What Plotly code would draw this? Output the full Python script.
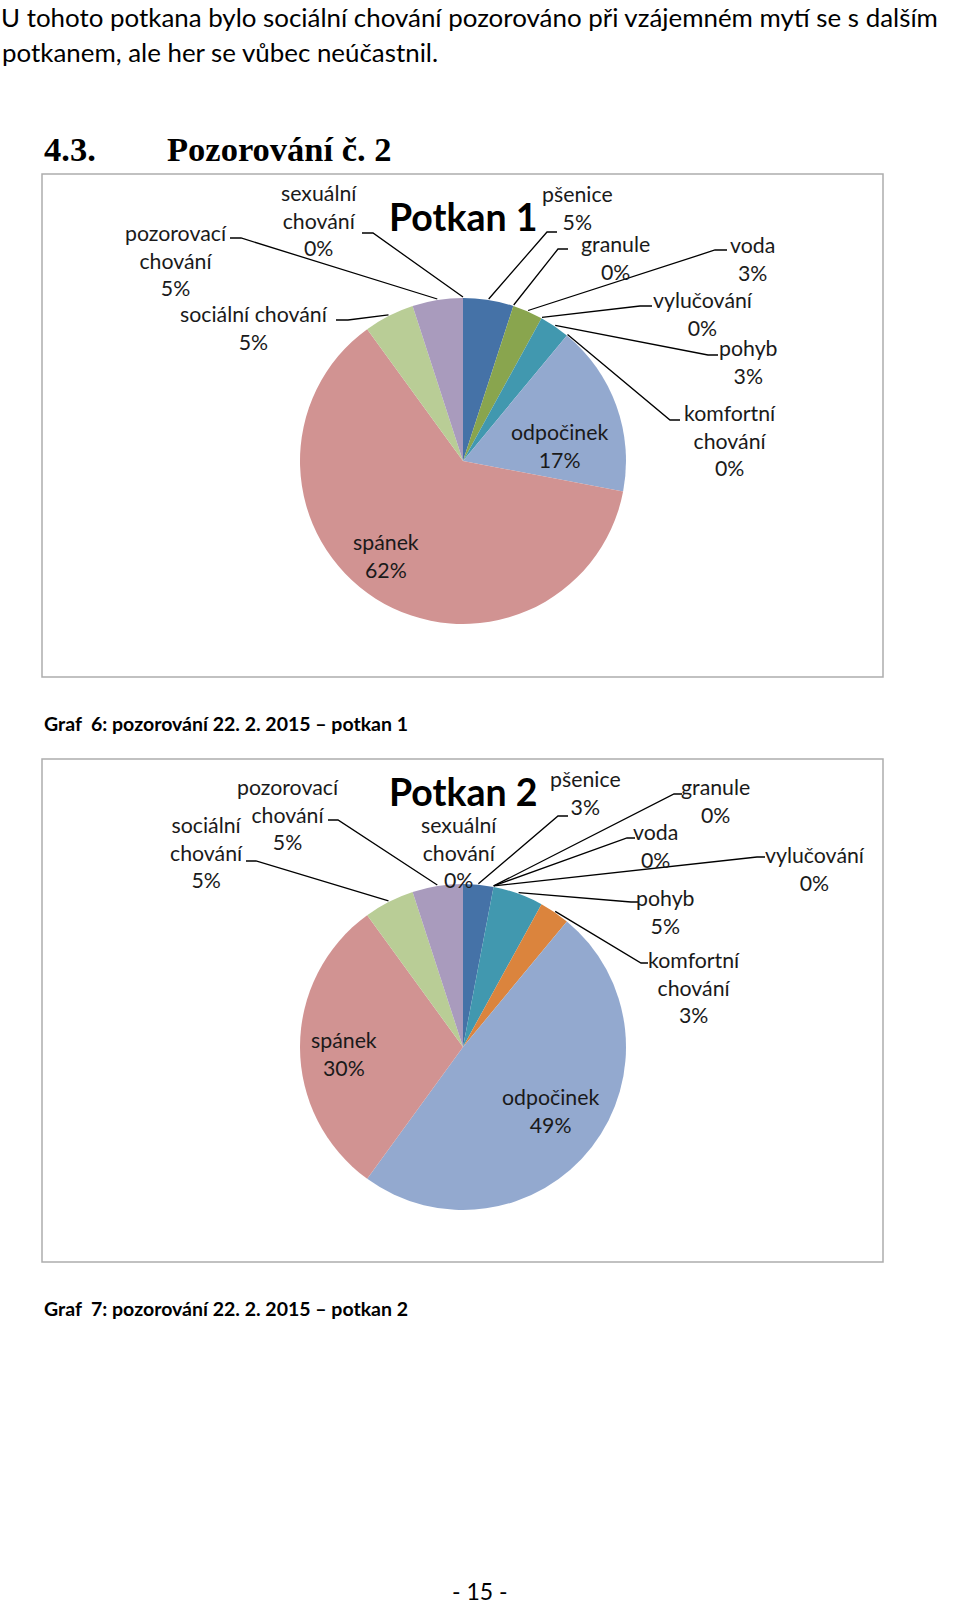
import math
import plotly.graph_objects as go

# ---------------- data ----------------
categories = ["pšenice", "granule", "voda", "vylučování", "pohyb", "komfortní chování",
              "odpočinek", "spánek", "sociální chování", "pozorovací chování", "sexuální chování"]
potkan1_pct = [5, 0, 3, 0, 3, 0, 17, 62, 5, 5, 0]
potkan2_pct = [3, 0, 0, 0, 5, 3, 49, 30, 5, 5, 0]
slice_colors = ["#4572A7", "#AA4643", "#89A54E", "#71588F", "#4198AF", "#DB843D",
                "#93A9CF", "#D19392", "#B9CD96", "#A99BBD", "#92C5D8"]

body_lines = ["U tohoto potkana bylo sociální chování pozorováno při vzájemném mytí se s dalším",
              "potkanem, ale her se vůbec neúčastnil."]
heading_num = "4.3."
heading_text = "Pozorování č. 2"
chart_titles = ["Potkan 1", "Potkan 2"]
captions = ["Graf  6: pozorování 22. 2. 2015 – potkan 1",
            "Graf  7: pozorování 22. 2. 2015 – potkan 2"]
page_number = "- 15 -"

# ---------------- layout constants (pixels, page coords) ----------------
W, H = 960, 1606
FONT = "Lato"
LBL = 21.3

# label placement per chart: category -> (x, y, text-with-breaks, tick or None)
# tick = (x_label_end, x_join, y)  -> leader goes label_end -> join -> slice edge
layout1 = {
    "pozorovací chování": (176, 260, "pozorovací<br>chování<br>{p}", (230, 241, 238)),
    "sexuální chování":   (319, 220, "sexuální<br>chování<br>{p}", (362, 373, 233)),
    "sociální chování":   (254, 328, "sociální chování<br>{p}", (336, 348, 320)),
    "pšenice":            (577, 208, "pšenice<br>{p}", (557, 547, 232)),
    "granule":            (615, 258, "granule<br>{p}", (568, 558, 249)),
    "voda":               (752, 259, "voda<br>{p}", (727, 715, 250)),
    "vylučování":         (703, 314, "vylučování<br>{p}", (652, 640, 306)),
    "pohyb":              (748, 362, "pohyb<br>{p}", (718, 708, 355)),
    "komfortní chování":  (730, 440, "komfortní<br>chování<br>{p}", (680, 670, 420)),
    "odpočinek":          (559, 446, "odpočinek<br>{p}", None),
    "spánek":             (386, 556, "spánek<br>{p}", None),
}
layout2 = {
    "pozorovací chování": (288, 814, "pozorovací<br>chování<br>{p}", (328, 338, 820)),
    "sociální chování":   (206, 852, "sociální<br>chování<br>{p}", (246, 256, 861)),
    "sexuální chování":   (459, 852, "sexuální<br>chování<br>{p}", None),
    "pšenice":            (585, 793, "pšenice<br>{p}", (568, 558, 816)),
    "granule":            (715, 801, "granule<br>{p}", (682, 674, 794)),
    "voda":               (655, 846, "voda<br>{p}", (635, 627, 838)),
    "vylučování":         (815, 869, "vylučování<br>{p}", (765, 757, 857)),
    "pohyb":              (665, 912, "pohyb<br>{p}", (638, 631, 902)),
    "komfortní chování":  (694, 987, "komfortní<br>chování<br>{p}", (648, 641, 963)),
    "spánek":             (344, 1054, "spánek<br>{p}", None),
    "odpočinek":          (550, 1111, "odpočinek<br>{p}", None),
}

charts = [
    dict(values=potkan1_pct, cx=463, cy=461, r=163, box=(42, 174, 883, 677),
         title_xy=(463, 216), labels=layout1, caption_y=723),
    dict(values=potkan2_pct, cx=463, cy=1047, r=163, box=(42, 759, 883, 1262),
         title_xy=(463, 791), labels=layout2, caption_y=1308),
]

fig = go.Figure()
shapes = []
annotations = []

for i, ch in enumerate(charts):
    cx, cy, r = ch["cx"], ch["cy"], ch["r"]
    fig.add_trace(go.Pie(
        labels=categories, values=ch["values"], sort=False, direction="clockwise",
        rotation=0, textinfo="none", showlegend=False, hoverinfo="label+percent",
        marker=dict(colors=slice_colors, line=dict(width=0)),
        domain=dict(x=[(cx - r) / W, (cx + r) / W], y=[1 - (cy + r) / H, 1 - (cy - r) / H]),
    ))
    x0, y0, x1, y1 = ch["box"]
    shapes.append(dict(type="rect", xref="x", yref="y", x0=x0, y0=y0, x1=x1, y1=y1,
                       line=dict(color="#ADADAD", width=1.5), fillcolor="rgba(0,0,0,0)"))
    total = sum(ch["values"])
    cum = 0
    for cat, v in zip(categories, ch["values"]):
        mid = (cum + v / 2) / total * 2 * math.pi
        cum += v
        lx, ly, txt, tick = ch["labels"][cat]
        annotations.append(dict(x=lx, y=ly, xref="x", yref="y", showarrow=False,
                                text=txt.format(p=f"{v}%"), align="center",
                                font=dict(family=FONT, size=LBL, color="#1a1a1a")))
        if tick:
            ex = cx + (r + 1) * math.sin(mid)
            ey = cy - (r + 1) * math.cos(mid)
            ta, tb, ty = tick
            shapes.append(dict(type="path", xref="x", yref="y",
                               path=f"M {ta},{ty} L {tb},{ty} L {ex:.1f},{ey:.1f}",
                               line=dict(color="#000000", width=1.3)))
    tx, ty = ch["title_xy"]
    annotations.append(dict(x=tx, y=ty, xref="x", yref="y", showarrow=False,
                            text=f"<b>{chart_titles[i]}</b>",
                            font=dict(family=FONT, size=37.5, color="#000000")))
    annotations.append(dict(x=42, y=ch["caption_y"], xref="x", yref="y", showarrow=False,
                            xanchor="left", text=f"<b>{captions[i]}</b>",
                            font=dict(family=FONT, size=19.5, color="#000000")))

# page text
annotations.append(dict(x=0, y=0, xref="x", yref="y", showarrow=False, xanchor="left",
                        yanchor="top", borderpad=0,
                        text=body_lines[0], font=dict(family=FONT, size=25.9, color="#000")))
annotations.append(dict(x=0, y=52, xref="x", yref="y", showarrow=False, xanchor="left",
                        text=body_lines[1], font=dict(family=FONT, size=25.9, color="#000")))
annotations.append(dict(x=42, y=149, xref="x", yref="y", showarrow=False, xanchor="left",
                        text=f"<b>{heading_num}</b>",
                        font=dict(family="Liberation Serif", size=34.5, color="#000")))
annotations.append(dict(x=165, y=149, xref="x", yref="y", showarrow=False, xanchor="left",
                        text=f"<b>{heading_text}</b>",
                        font=dict(family="Liberation Serif", size=34.5, color="#000")))
annotations.append(dict(x=480, y=H, xref="x", yref="y", showarrow=False,
                        yanchor="bottom", borderpad=0,
                        text=page_number, font=dict(family=FONT, size=23, color="#000")))

fig.update_layout(
    width=W, height=H, margin=dict(l=0, r=0, t=0, b=0),
    paper_bgcolor="white", plot_bgcolor="white",
    xaxis=dict(range=[0, W], visible=False, fixedrange=True),
    yaxis=dict(range=[H, 0], visible=False, fixedrange=True),
    shapes=shapes, annotations=annotations,
)
fig.write_html("out.html", config={"displayModeBar": False},
               post_script="document.body.style.margin='0';document.body.style.overflow='hidden';")
